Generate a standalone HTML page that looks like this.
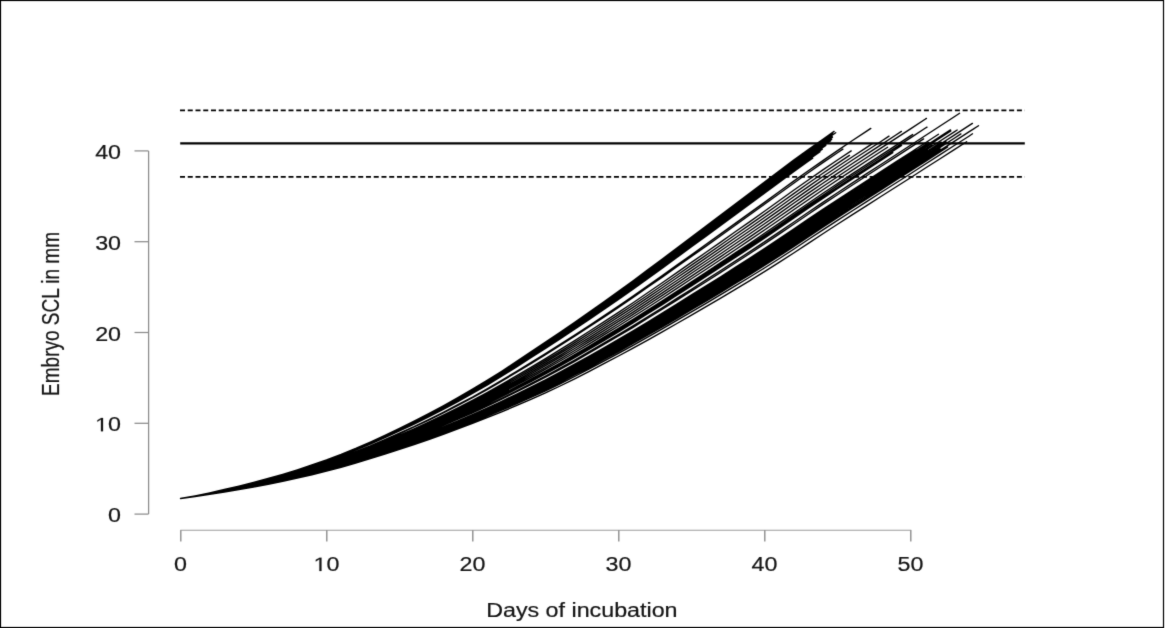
<!DOCTYPE html>
<html><head><meta charset="utf-8"><style>
html,body{margin:0;padding:0;background:#fff;width:1165px;height:628px;overflow:hidden}
svg{display:block}
text{font-family:"Liberation Sans",sans-serif;font-size:19px;fill:#161616;stroke:#161616;stroke-width:0.2px}
</style></head><body>
<svg width="1165" height="628" viewBox="0 0 1165 628">
<defs><filter id="bl" x="0" y="0" width="1165" height="628" filterUnits="userSpaceOnUse" color-interpolation-filters="sRGB"><feConvolveMatrix order="3" kernelMatrix="0.0113 0.0838 0.0113 0.0838 0.6193 0.0838 0.0113 0.0838 0.0113" edgeMode="duplicate"/></filter></defs>
<rect x="0" y="0" width="1165" height="628" fill="#fff"/>
<g filter="url(#bl)">
<rect x="0.5" y="0.5" width="1163" height="627" fill="none" stroke="#000" stroke-width="1.2"/>
<g stroke="#8c8c8c" stroke-width="1.25" fill="none">
<line x1="148.6" y1="514.1" x2="148.6" y2="150.9"/><line x1="134.5" y1="514.1" x2="148.6" y2="514.1"/><line x1="134.5" y1="423.3" x2="148.6" y2="423.3"/><line x1="134.5" y1="332.5" x2="148.6" y2="332.5"/><line x1="134.5" y1="241.7" x2="148.6" y2="241.7"/><line x1="134.5" y1="150.9" x2="148.6" y2="150.9"/>
</g>
<g stroke="#9c9c9c" stroke-width="1.1" fill="none">
<line x1="180.3" y1="530.3" x2="911.3" y2="530.3"/>
</g>
<g stroke="#888" stroke-width="1.35" fill="none"><line x1="180.8" y1="530.3" x2="180.8" y2="541.4"/><line x1="326.8" y1="530.3" x2="326.8" y2="541.4"/><line x1="472.8" y1="530.3" x2="472.8" y2="541.4"/><line x1="618.8" y1="530.3" x2="618.8" y2="541.4"/><line x1="764.8" y1="530.3" x2="764.8" y2="541.4"/><line x1="910.8" y1="530.3" x2="910.8" y2="541.4"/></g>
<text transform="translate(180.50 571.00) scale(1.200 1)" text-anchor="middle" style="font-size:19.4px">0</text><path transform="translate(313.55 571.00) scale(0.01137 -0.00947)" d="M515 0V1237L197 1010V1180L530 1409H696V0Z" fill="#161616" stroke="#161616" stroke-width="21.1"/><text transform="translate(326.50 571.00) scale(1.200 1)" text-anchor="middle" style="font-size:19.4px"><tspan style="fill:none;stroke:none">1</tspan>0</text><text transform="translate(472.50 571.00) scale(1.200 1)" text-anchor="middle" style="font-size:19.4px">20</text><text transform="translate(618.50 571.00) scale(1.200 1)" text-anchor="middle" style="font-size:19.4px">30</text><text transform="translate(764.50 571.00) scale(1.200 1)" text-anchor="middle" style="font-size:19.4px">40</text><text transform="translate(910.50 571.00) scale(1.200 1)" text-anchor="middle" style="font-size:19.4px">50</text>
<text transform="translate(121.00 522.10) scale(1.200 1)" text-anchor="end" style="font-size:19.4px">0</text><path transform="translate(95.11 431.30) scale(0.01137 -0.00947)" d="M515 0V1237L197 1010V1180L530 1409H696V0Z" fill="#161616" stroke="#161616" stroke-width="21.1"/><text transform="translate(121.00 431.30) scale(1.200 1)" text-anchor="end" style="font-size:19.4px"><tspan style="fill:none;stroke:none">1</tspan>0</text><text transform="translate(121.00 340.50) scale(1.200 1)" text-anchor="end" style="font-size:19.4px">20</text><text transform="translate(121.00 249.70) scale(1.200 1)" text-anchor="end" style="font-size:19.4px">30</text><text transform="translate(121.00 158.90) scale(1.200 1)" text-anchor="end" style="font-size:19.4px">40</text>
<text transform="translate(581.85 616.6) scale(1.2 1)" text-anchor="middle" style="font-size:19.4px">Days of incubation</text>
<text transform="translate(59.3 313.95) rotate(-90) scale(1 1.225)" text-anchor="middle">Embryo SCL in mm</text>
<path d="M180.5 498.5L195.1 495.8 209.7 492.8 224.3 489.5 238.9 486.1 253.5 482.4 268.1 478.5 282.7 474.3 297.3 469.8 311.9 465.0 326.5 459.9 341.1 454.4 355.7 448.4 370.3 442.0 384.9 435.3 399.5 428.4 414.1 421.2 428.7 413.7 443.3 405.8 457.9 397.7 472.5 389.2 487.1 380.4 501.7 371.2 516.3 361.6 530.9 351.8 545.5 342.0 560.1 332.2 574.7 322.2 589.3 312.1 603.9 301.8 618.5 291.4 633.1 280.8 647.7 269.9 662.3 259.0 676.9 248.0 691.5 237.1 706.1 226.1 720.7 215.1 735.3 204.1 749.9 193.1 764.5 182.1 779.1 171.1 793.7 160.1 808.3 149.5 822.9 139.2 834.1 131.4M180.5 498.5L195.1 495.8 209.7 492.8 224.3 489.6 238.9 486.1 253.5 482.5 268.1 478.6 282.7 474.4 297.3 469.9 311.9 465.1 326.5 460.0 341.1 454.5 355.7 448.6 370.3 442.2 384.9 435.5 399.5 428.6 414.1 421.5 428.7 414.0 443.3 406.2 457.9 398.1 472.5 389.7 487.1 380.9 501.7 371.7 516.3 362.1 530.9 352.4 545.5 342.7 560.1 332.9 574.7 322.9 589.3 312.8 603.9 302.6 618.5 292.2 633.1 281.6 647.7 270.8 662.3 259.9 676.9 249.0 691.5 238.0 706.1 227.1 720.7 216.2 735.3 205.2 749.9 194.2 764.5 183.3 779.1 172.3 793.7 161.3 808.3 150.7 822.9 140.4 832.7 133.6M180.5 498.5L195.1 495.8 209.7 492.8 224.3 489.6 238.9 486.2 253.5 482.5 268.1 478.7 282.7 474.5 297.3 470.0 311.9 465.2 326.5 460.2 341.1 454.7 355.7 448.7 370.3 442.4 384.9 435.8 399.5 428.9 414.1 421.8 428.7 414.3 443.3 406.5 457.9 398.5 472.5 390.1 487.1 381.4 501.7 372.2 516.3 362.7 530.9 353.0 545.5 343.3 560.1 333.5 574.7 323.6 589.3 313.5 603.9 303.3 618.5 293.0 633.1 282.4 647.7 271.7 662.3 260.8 676.9 249.9 691.5 239.0 706.1 228.1 720.7 217.2 735.3 206.2 749.9 195.3 764.5 184.4 779.1 173.4 793.7 162.5 808.3 151.8 822.9 141.6 835.7 132.7M180.5 498.5L195.1 495.8 209.7 492.8 224.3 489.6 238.9 486.2 253.5 482.6 268.1 478.7 282.7 474.6 297.3 470.1 311.9 465.4 326.5 460.3 341.1 454.9 355.7 448.9 370.3 442.6 384.9 436.0 399.5 429.2 414.1 422.1 428.7 414.7 443.3 406.9 457.9 398.9 472.5 390.5 487.1 381.8 501.7 372.7 516.3 363.2 530.9 353.6 545.5 343.9 560.1 334.2 574.7 324.3 589.3 314.3 603.9 304.1 618.5 293.8 633.1 283.3 647.7 272.6 662.3 261.7 676.9 250.9 691.5 240.0 706.1 229.1 720.7 218.2 735.3 207.3 749.9 196.4 764.5 185.5 779.1 174.5 793.7 163.6 808.3 153.0 822.9 142.7 832.2 136.3M180.5 498.5L195.1 495.8 209.7 492.9 224.3 489.7 238.9 486.3 253.5 482.6 268.1 478.8 282.7 474.7 297.3 470.2 311.9 465.5 326.5 460.5 341.1 455.0 355.7 449.1 370.3 442.8 384.9 436.2 399.5 429.4 414.1 422.4 428.7 415.0 443.3 407.3 457.9 399.2 472.5 391.0 487.1 382.3 501.7 373.2 516.3 363.8 530.9 354.2 545.5 344.6 560.1 334.9 574.7 325.0 589.3 315.0 603.9 304.9 618.5 294.6 633.1 284.1 647.7 273.5 662.3 262.7 676.9 251.8 691.5 241.0 706.1 230.1 720.7 219.3 735.3 208.4 749.9 197.5 764.5 186.6 779.1 175.7 793.7 164.8 808.3 154.2 822.9 143.9 832.5 137.3M180.5 498.5L195.1 495.8 209.7 492.9 224.3 489.7 238.9 486.3 253.5 482.7 268.1 478.9 282.7 474.7 297.3 470.3 311.9 465.6 326.5 460.6 341.1 455.2 355.7 449.3 370.3 443.0 384.9 436.5 399.5 429.7 414.1 422.7 428.7 415.3 443.3 407.6 457.9 399.6 472.5 391.4 487.1 382.8 501.7 373.7 516.3 364.3 530.9 354.8 545.5 345.2 560.1 335.5 574.7 325.7 589.3 315.8 603.9 305.7 618.5 295.4 633.1 285.0 647.7 274.3 662.3 263.6 676.9 252.7 691.5 241.9 706.1 231.1 720.7 220.3 735.3 209.4 749.9 198.6 764.5 187.7 779.1 176.8 793.7 166.0 808.3 155.4 822.9 145.1 831.7 139.1M180.5 498.5L195.1 495.8 209.7 492.9 224.3 489.7 238.9 486.3 253.5 482.8 268.1 478.9 282.7 474.8 297.3 470.4 311.9 465.7 326.5 460.7 341.1 455.3 355.7 449.5 370.3 443.2 384.9 436.7 399.5 430.0 414.1 423.0 428.7 415.6 443.3 408.0 457.9 400.0 472.5 391.8 487.1 383.2 501.7 374.2 516.3 364.9 530.9 355.4 545.5 345.8 560.1 336.2 574.7 326.4 589.3 316.5 603.9 306.4 618.5 296.2 633.1 285.8 647.7 275.2 662.3 264.5 676.9 253.7 691.5 242.9 706.1 232.2 720.7 221.3 735.3 210.5 749.9 199.7 764.5 188.8 779.1 178.0 793.7 167.1 808.3 156.5 822.9 146.3 830.8 140.8M180.5 498.5L195.1 495.8 209.7 492.9 224.3 489.8 238.9 486.4 253.5 482.8 268.1 479.0 282.7 474.9 297.3 470.5 311.9 465.9 326.5 460.9 341.1 455.5 355.7 449.7 370.3 443.4 384.9 436.9 399.5 430.2 414.1 423.3 428.7 415.9 443.3 408.3 457.9 400.4 472.5 392.2 487.1 383.7 501.7 374.7 516.3 365.4 530.9 356.0 545.5 346.5 560.1 336.9 574.7 327.1 589.3 317.2 603.9 307.2 618.5 297.0 633.1 286.7 647.7 276.1 662.3 265.4 676.9 254.6 691.5 243.9 706.1 233.2 720.7 222.4 735.3 211.6 749.9 200.8 764.5 190.0 779.1 179.1 793.7 168.3 808.3 157.7 822.9 147.5 825.8 145.4M180.5 498.5L195.1 495.8 209.7 492.9 224.3 489.8 238.9 486.4 253.5 482.9 268.1 479.1 282.7 475.0 297.3 470.6 311.9 466.0 326.5 461.0 341.1 455.7 355.7 449.9 370.3 443.7 384.9 437.2 399.5 430.5 414.1 423.5 428.7 416.3 443.3 408.7 457.9 400.8 472.5 392.7 487.1 384.2 501.7 375.2 516.3 366.0 530.9 356.6 545.5 347.1 560.1 337.6 574.7 327.9 589.3 318.0 603.9 308.0 618.5 297.8 633.1 287.5 647.7 277.0 662.3 266.3 676.9 255.6 691.5 244.9 706.1 234.2 720.7 223.4 735.3 212.6 749.9 201.9 764.5 191.1 779.1 180.3 793.7 169.4 808.3 158.9 822.3 149.1M180.5 498.5L195.1 495.9 209.7 493.0 224.3 489.8 238.9 486.5 253.5 482.9 268.1 479.2 282.7 475.1 297.3 470.7 311.9 466.1 326.5 461.2 341.1 455.8 355.7 450.0 370.3 443.9 384.9 437.4 399.5 430.7 414.1 423.8 428.7 416.6 443.3 409.0 457.9 401.2 472.5 393.1 487.1 384.6 501.7 375.7 516.3 366.6 530.9 357.2 545.5 347.8 560.1 338.2 574.7 328.6 589.3 318.7 603.9 308.8 618.5 298.6 633.1 288.3 647.7 277.8 662.3 267.2 676.9 256.5 691.5 245.8 706.1 235.2 720.7 224.5 735.3 213.7 749.9 203.0 764.5 192.2 779.1 181.4 793.7 170.6 808.3 160.0 820.1 151.8M180.5 498.5L195.1 495.9 209.7 493.0 224.3 489.9 238.9 486.5 253.5 483.0 268.1 479.2 282.7 475.2 297.3 470.8 311.9 466.2 326.5 461.3 341.1 456.0 355.7 450.2 370.3 444.1 384.9 437.6 399.5 431.0 414.1 424.1 428.7 416.9 443.3 409.4 457.9 401.6 472.5 393.5 487.1 385.1 501.7 376.2 516.3 367.1 530.9 357.8 545.5 348.4 560.1 338.9 574.7 329.3 589.3 319.5 603.9 309.5 618.5 299.4 633.1 289.2 647.7 278.7 662.3 268.1 676.9 257.5 691.5 246.8 706.1 236.2 720.7 225.5 735.3 214.8 749.9 204.0 764.5 193.3 779.1 182.5 793.7 171.8 808.3 161.2 812.7 158.1M180.5 498.5L195.1 495.9 209.7 493.1 224.3 490.1 238.9 486.9 253.5 483.5 268.1 479.8 282.7 475.9 297.3 471.7 311.9 467.2 326.5 462.5 341.1 457.3 355.7 451.7 370.3 445.8 384.9 439.5 399.5 433.1 414.1 426.5 428.7 419.5 443.3 412.3 457.9 404.7 472.5 397.0 487.1 388.8 501.7 380.3 516.3 371.6 530.9 362.6 545.5 353.5 560.1 344.4 574.7 335.0 589.3 325.5 603.9 315.8 618.5 306.0 633.1 296.0 647.7 285.8 662.3 275.5 676.9 265.1 691.5 254.7 706.1 244.3 720.7 233.9 735.3 223.4 749.9 212.9 764.5 202.4 779.1 191.8 793.7 181.1 808.3 170.7 822.9 160.6 837.5 150.6 852.1 140.8 866.7 131.1 870.8 128.4M180.5 498.5L195.1 496.0 209.7 493.2 224.3 490.2 238.9 487.0 253.5 483.6 268.1 479.9 282.7 476.0 297.3 471.9 311.9 467.4 326.5 462.7 341.1 457.6 355.7 452.0 370.3 446.1 384.9 440.0 399.5 433.6 414.1 427.0 428.7 420.1 443.3 412.9 457.9 405.4 472.5 397.7 487.1 389.7 501.7 381.2 516.3 372.5 530.9 363.6 545.5 354.6 560.1 345.5 574.7 336.2 589.3 326.8 603.9 317.2 618.5 307.4 633.1 297.5 647.7 287.3 662.3 277.1 676.9 266.7 691.5 256.4 706.1 246.1 720.7 235.7 735.3 225.3 749.9 214.8 764.5 204.3 779.1 193.8 793.7 183.2 808.3 172.8 822.9 162.6 837.5 152.7 842.9 149.1M180.5 498.5L195.1 496.0 209.7 493.3 224.3 490.4 238.9 487.2 253.5 483.9 268.1 480.4 282.7 476.6 297.3 472.5 311.9 468.2 326.5 463.6 341.1 458.6 355.7 453.2 370.3 447.4 384.9 441.4 399.5 435.2 414.1 428.8 428.7 422.1 443.3 415.1 457.9 407.8 472.5 400.3 487.1 392.5 501.7 384.4 516.3 375.9 530.9 367.3 545.5 358.6 560.1 349.7 574.7 340.6 589.3 331.3 603.9 321.9 618.5 312.4 633.1 302.7 647.7 292.7 662.3 282.7 676.9 272.6 691.5 262.4 706.1 252.3 720.7 242.1 735.3 231.8 749.9 221.6 764.5 211.2 779.1 200.8 793.7 190.3 808.3 180.0 822.9 169.9 837.5 160.0 851.2 150.9M180.5 498.5L195.1 496.0 209.7 493.4 224.3 490.5 238.9 487.4 253.5 484.1 268.1 480.6 282.7 476.8 297.3 472.8 311.9 468.5 326.5 464.0 341.1 459.1 355.7 453.7 370.3 448.0 384.9 442.1 399.5 435.9 414.1 429.6 428.7 423.0 443.3 416.1 457.9 408.9 472.5 401.5 487.1 393.8 501.7 385.8 516.3 377.5 530.9 369.0 545.5 360.3 560.1 351.6 574.7 342.6 589.3 333.4 603.9 324.1 618.5 314.6 633.1 305.0 647.7 295.2 662.3 285.2 676.9 275.2 691.5 265.1 706.1 255.1 720.7 245.0 735.3 234.8 749.9 224.6 764.5 214.4 779.1 204.0 793.7 193.6 808.3 183.3 822.9 173.2 837.5 163.4 849.5 155.4M180.5 498.5L195.1 496.1 209.7 493.4 224.3 490.5 238.9 487.5 253.5 484.2 268.1 480.8 282.7 477.1 297.3 473.1 311.9 468.9 326.5 464.4 341.1 459.5 355.7 454.2 370.3 448.6 384.9 442.7 399.5 436.7 414.1 430.4 428.7 423.9 443.3 417.1 457.9 410.0 472.5 402.7 487.1 395.1 501.7 387.2 516.3 379.0 530.9 370.6 545.5 362.1 560.1 353.4 574.7 344.6 589.3 335.5 603.9 326.3 618.5 316.9 633.1 307.4 647.7 297.6 662.3 287.8 676.9 277.8 691.5 267.9 706.1 257.9 720.7 247.9 735.3 237.8 749.9 227.7 764.5 217.5 779.1 207.2 793.7 196.8 808.3 186.6 822.9 176.5 837.5 166.7 852.1 157.0 866.7 147.4 872.4 143.6M180.5 498.5L195.1 496.1 209.7 493.5 224.3 490.6 238.9 487.6 253.5 484.4 268.1 481.0 282.7 477.3 297.3 473.4 311.9 469.2 326.5 464.8 341.1 460.0 355.7 454.7 370.3 449.2 384.9 443.4 399.5 437.4 414.1 431.2 428.7 424.8 443.3 418.1 457.9 411.1 472.5 403.9 487.1 396.5 501.7 388.6 516.3 380.6 530.9 372.3 545.5 363.9 560.1 355.3 574.7 346.5 589.3 337.6 603.9 328.4 618.5 319.2 633.1 309.7 647.7 300.1 662.3 290.3 676.9 280.5 691.5 270.6 706.1 260.7 720.7 250.8 735.3 240.8 749.9 230.7 764.5 220.6 779.1 210.4 793.7 200.1 808.3 189.9 822.9 179.9 837.5 170.0 852.1 160.3 866.7 150.7 881.3 141.2 889.0 136.1M180.5 498.5L195.1 496.1 209.7 493.5 224.3 490.7 238.9 487.7 253.5 484.6 268.1 481.2 282.7 477.6 297.3 473.7 311.9 469.6 326.5 465.2 341.1 460.4 355.7 455.3 370.3 449.8 384.9 444.0 399.5 438.1 414.1 432.1 428.7 425.7 443.3 419.1 457.9 412.2 472.5 405.1 487.1 397.8 501.7 390.1 516.3 382.1 530.9 374.0 545.5 365.7 560.1 357.2 574.7 348.5 589.3 339.6 603.9 330.6 618.5 321.4 633.1 312.1 647.7 302.6 662.3 292.9 676.9 283.1 691.5 273.3 706.1 263.5 720.7 253.7 735.3 243.8 749.9 233.8 764.5 223.8 779.1 213.6 793.7 203.3 808.3 193.1 822.9 183.2 837.5 173.4 852.1 163.7 866.7 154.1 881.3 144.6 895.9 135.0 901.4 131.4M180.5 498.5L195.1 496.1 209.7 493.6 224.3 490.8 238.9 487.9 253.5 484.7 268.1 481.4 282.7 477.8 297.3 474.0 311.9 469.9 326.5 465.6 341.1 460.9 355.7 455.8 370.3 450.4 384.9 444.7 399.5 438.9 414.1 432.9 428.7 426.6 443.3 420.1 457.9 413.3 472.5 406.3 487.1 399.1 501.7 391.5 516.3 383.7 530.9 375.6 545.5 367.5 560.1 359.1 574.7 350.5 589.3 341.7 603.9 332.8 618.5 323.7 633.1 314.4 647.7 305.0 662.3 295.4 676.9 285.8 691.5 276.1 706.1 266.4 720.7 256.6 735.3 246.8 749.9 236.9 764.5 226.9 779.1 216.8 793.7 206.6 808.3 196.4 822.9 186.5 837.5 176.7 852.1 167.0 866.7 157.5 881.3 147.9 895.9 138.4 910.5 128.9 925.1 119.3 926.4 118.4M180.5 498.5L195.1 496.2 209.7 493.6 224.3 490.9 238.9 488.0 253.5 484.9 268.1 481.6 282.7 478.1 297.3 474.3 311.9 470.2 326.5 466.0 341.1 461.3 355.7 456.3 370.3 450.9 384.9 445.3 399.5 439.6 414.1 433.7 428.7 427.5 443.3 421.1 457.9 414.4 472.5 407.5 487.1 400.4 501.7 392.9 516.3 385.2 530.9 377.3 545.5 369.2 560.1 361.0 574.7 352.5 589.3 343.8 603.9 334.9 618.5 326.0 633.1 316.8 647.7 307.5 662.3 298.0 676.9 288.4 691.5 278.8 706.1 269.2 720.7 259.5 735.3 249.8 749.9 239.9 764.5 230.0 779.1 220.0 793.7 209.8 808.3 199.7 822.9 189.8 837.5 180.0 852.1 170.4 866.7 160.8 881.3 151.3 887.6 147.2M180.5 498.5L195.1 496.2 209.7 493.7 224.3 491.0 238.9 488.1 253.5 485.1 268.1 481.8 282.7 478.3 297.3 474.6 311.9 470.6 326.5 466.4 341.1 461.8 355.7 456.8 370.3 451.6 384.9 446.0 399.5 440.4 414.1 434.5 428.7 428.4 443.3 422.1 457.9 415.6 472.5 408.8 487.1 401.7 501.7 394.4 516.3 386.8 530.9 379.1 545.5 371.1 560.1 363.0 574.7 354.6 589.3 346.0 603.9 337.2 618.5 328.3 633.1 319.3 647.7 310.1 662.3 300.7 676.9 291.2 691.5 281.7 706.1 272.2 720.7 262.6 735.3 252.9 749.9 243.2 764.5 233.3 779.1 223.4 793.7 213.2 808.3 203.2 822.9 193.3 837.5 183.5 852.1 173.9 866.7 164.4 881.3 154.9 895.9 145.4 910.5 135.9 912.7 134.5M180.5 498.5L195.1 496.2 209.7 493.7 224.3 491.0 238.9 488.2 253.5 485.2 268.1 481.9 282.7 478.5 297.3 474.8 311.9 470.8 326.5 466.6 341.1 462.1 355.7 457.1 370.3 451.9 384.9 446.4 399.5 440.8 414.1 435.0 428.7 429.0 443.3 422.7 457.9 416.2 472.5 409.5 487.1 402.5 501.7 395.2 516.3 387.7 530.9 380.0 545.5 372.1 560.1 364.1 574.7 355.7 589.3 347.2 603.9 338.5 618.5 329.6 633.1 320.6 647.7 311.5 662.3 302.1 676.9 292.7 691.5 283.2 706.1 273.8 720.7 264.2 735.3 254.6 749.9 244.9 764.5 235.1 779.1 225.2 793.7 215.1 808.3 205.1 822.9 195.2 837.5 185.4 852.1 175.8 866.7 166.3 881.3 156.8 895.9 147.4 910.5 137.9 925.1 128.3 927.0 127.1M180.5 498.5L195.1 496.2 209.7 493.8 224.3 491.1 238.9 488.2 253.5 485.2 268.1 482.0 282.7 478.6 297.3 474.9 311.9 471.0 326.5 466.8 341.1 462.3 355.7 457.4 370.3 452.2 384.9 446.8 399.5 441.2 414.1 435.4 428.7 429.4 443.3 423.2 457.9 416.7 472.5 410.1 487.1 403.2 501.7 396.0 516.3 388.5 530.9 380.9 545.5 373.1 560.1 365.0 574.7 356.7 589.3 348.2 603.9 339.6 618.5 330.8 633.1 321.9 647.7 312.7 662.3 303.4 676.9 294.1 691.5 284.6 706.1 275.2 720.7 265.7 735.3 256.2 749.9 246.5 764.5 236.7 779.1 226.8 793.7 216.8 808.3 206.8 822.9 196.9 837.5 187.2 852.1 177.6 866.7 168.0 881.3 158.6 895.9 149.1 901.6 145.4M180.5 498.5L195.1 496.2 209.7 493.8 224.3 491.1 238.9 488.3 253.5 485.3 268.1 482.1 282.7 478.7 297.3 475.0 311.9 471.1 326.5 467.0 341.1 462.5 355.7 457.6 370.3 452.5 384.9 447.1 399.5 441.5 414.1 435.8 428.7 429.8 443.3 423.6 457.9 417.2 472.5 410.6 487.1 403.8 501.7 396.6 516.3 389.2 530.9 381.6 545.5 373.9 560.1 365.9 574.7 357.6 589.3 349.2 603.9 340.6 618.5 331.8 633.1 322.9 647.7 313.8 662.3 304.6 676.9 295.3 691.5 285.9 706.1 276.5 720.7 267.0 735.3 257.5 749.9 247.9 764.5 238.2 779.1 228.3 793.7 218.3 808.3 208.3 822.9 198.4 837.5 188.7 852.1 179.1 866.7 169.6 881.3 160.1 892.8 152.7M180.5 498.5L195.1 496.3 209.7 493.9 224.3 491.2 238.9 488.5 253.5 485.5 268.1 482.4 282.7 479.0 297.3 475.4 311.9 471.6 326.5 467.5 341.1 463.1 355.7 458.3 370.3 453.2 384.9 447.8 399.5 442.4 414.1 436.8 428.7 430.9 443.3 424.8 457.9 418.6 472.5 412.1 487.1 405.3 501.7 398.3 516.3 391.1 530.9 383.6 545.5 376.0 560.1 368.1 574.7 360.0 589.3 351.7 603.9 343.2 618.5 334.6 633.1 325.8 647.7 316.8 662.3 307.7 676.9 298.4 691.5 289.2 706.1 279.9 720.7 270.5 735.3 261.1 749.9 251.6 764.5 241.9 779.1 232.1 793.7 222.2 808.3 212.2 822.9 202.4 837.5 192.7 852.1 183.1 866.7 173.6 881.3 164.2 895.9 154.7 910.5 145.3 925.1 135.8 939.7 126.3 954.3 116.8 959.6 113.3M180.5 498.5L195.1 496.3 209.7 493.9 224.3 491.3 238.9 488.5 253.5 485.6 268.1 482.5 282.7 479.2 297.3 475.6 311.9 471.8 326.5 467.7 341.1 463.3 355.7 458.6 370.3 453.5 384.9 448.3 399.5 442.9 414.1 437.3 428.7 431.5 443.3 425.5 457.9 419.2 472.5 412.8 487.1 406.1 501.7 399.2 516.3 392.0 530.9 384.7 545.5 377.1 560.1 369.3 574.7 361.3 589.3 353.0 603.9 344.5 618.5 336.0 633.1 327.3 647.7 318.3 662.3 309.3 676.9 300.1 691.5 290.9 706.1 281.7 720.7 272.4 735.3 263.0 749.9 253.5 764.5 243.9 779.1 234.1 793.7 224.2 808.3 214.3 822.9 204.4 837.5 194.8 852.1 185.2 866.7 175.7 881.3 166.3 895.9 156.9 910.5 147.4 923.6 138.9M180.5 498.5L195.1 496.3 209.7 494.0 224.3 491.4 238.9 488.7 253.5 485.8 268.1 482.8 282.7 479.5 297.3 476.0 311.9 472.3 326.5 468.3 341.1 464.0 355.7 459.4 370.3 454.4 384.9 449.2 399.5 443.9 414.1 438.5 428.7 432.8 443.3 427.0 457.9 420.9 472.5 414.6 487.1 408.1 501.7 401.3 516.3 394.3 530.9 387.2 545.5 379.8 560.1 372.1 574.7 364.2 589.3 356.1 603.9 347.8 618.5 339.3 633.1 330.8 647.7 322.0 662.3 313.0 676.9 304.0 691.5 294.9 706.1 285.8 720.7 276.7 735.3 267.4 749.9 258.0 764.5 248.6 779.1 238.9 793.7 229.0 808.3 219.1 822.9 209.4 837.5 199.7 852.1 190.2 866.7 180.8 881.3 171.3 895.9 161.9 910.5 152.5 925.1 143.0 938.5 134.3M180.5 498.5L195.1 496.4 209.7 494.1 224.3 491.6 238.9 488.9 253.5 486.1 268.1 483.1 282.7 479.8 297.3 476.4 311.9 472.7 326.5 468.8 341.1 464.6 355.7 460.1 370.3 455.2 384.9 450.1 399.5 444.9 414.1 439.6 428.7 434.0 443.3 428.3 457.9 422.3 472.5 416.2 487.1 409.8 501.7 403.2 516.3 396.4 530.9 389.4 545.5 382.2 560.1 374.7 574.7 366.9 589.3 358.9 603.9 350.7 618.5 342.4 633.1 333.9 647.7 325.3 662.3 316.5 676.9 307.6 691.5 298.6 706.1 289.6 720.7 280.6 735.3 271.4 749.9 262.2 764.5 252.8 779.1 243.2 793.7 233.4 808.3 223.6 822.9 213.8 837.5 204.2 852.1 194.7 866.7 185.3 881.3 175.9 895.9 166.5 910.5 157.1 925.1 147.6 939.7 138.2 950.9 130.9M180.5 498.5L195.1 496.4 209.7 494.1 224.3 491.6 238.9 489.0 253.5 486.2 268.1 483.3 282.7 480.1 297.3 476.7 311.9 473.1 326.5 469.2 341.1 465.0 355.7 460.5 370.3 455.7 384.9 450.7 399.5 445.6 414.1 440.3 428.7 434.9 443.3 429.2 457.9 423.3 472.5 417.3 487.1 411.0 501.7 404.5 516.3 397.8 530.9 390.9 545.5 383.8 560.1 376.4 574.7 368.7 589.3 360.8 603.9 352.7 618.5 344.4 633.1 336.1 647.7 327.5 662.3 318.8 676.9 310.0 691.5 301.1 706.1 292.2 720.7 283.2 735.3 274.2 749.9 265.0 764.5 255.6 779.1 246.1 793.7 236.4 808.3 226.6 822.9 216.8 837.5 207.2 852.1 197.8 866.7 188.4 881.3 179.0 895.9 169.6 910.5 160.2 925.1 150.8 939.7 141.3 954.3 131.9 957.2 130.0M180.5 498.5L195.1 496.4 209.7 494.2 224.3 491.7 238.9 489.1 253.5 486.4 268.1 483.4 282.7 480.3 297.3 476.9 311.9 473.4 326.5 469.6 341.1 465.5 355.7 461.0 370.3 456.3 384.9 451.3 399.5 446.3 414.1 441.1 428.7 435.7 443.3 430.1 457.9 424.3 472.5 418.4 487.1 412.2 501.7 405.8 516.3 399.2 530.9 392.4 545.5 385.4 560.1 378.1 574.7 370.5 589.3 362.7 603.9 354.6 618.5 346.5 633.1 338.2 647.7 329.8 662.3 321.1 676.9 312.4 691.5 303.6 706.1 294.8 720.7 285.9 735.3 276.9 749.9 267.8 764.5 258.5 779.1 249.0 793.7 239.3 808.3 229.6 822.9 219.9 837.5 210.3 852.1 200.8 866.7 191.4 881.3 182.1 895.9 172.7 910.5 163.3 925.1 153.9 939.7 144.5 954.3 135.1 968.9 125.6 972.4 123.4M180.5 498.5L195.1 496.5 209.7 494.3 224.3 491.9 238.9 489.3 253.5 486.7 268.1 483.8 282.7 480.7 297.3 477.5 311.9 474.0 326.5 470.3 341.1 466.3 355.7 461.9 370.3 457.3 384.9 452.5 399.5 447.6 414.1 442.6 428.7 437.4 443.3 431.9 457.9 426.3 472.5 420.6 487.1 414.6 501.7 408.4 516.3 402.1 530.9 395.5 545.5 388.7 560.1 381.5 574.7 374.1 589.3 366.5 603.9 358.6 618.5 350.7 633.1 342.5 647.7 334.2 662.3 325.8 676.9 317.2 691.5 308.6 706.1 299.9 720.7 291.2 735.3 282.3 749.9 273.4 764.5 264.2 779.1 254.9 793.7 245.3 808.3 235.6 822.9 225.9 837.5 216.4 852.1 207.0 866.7 197.6 881.3 188.3 895.9 178.9 910.5 169.6 925.1 160.2 939.7 150.8 954.3 141.4 968.9 132.0 974.4 128.4M180.5 498.5L195.1 496.5 209.7 494.3 224.3 492.0 238.9 489.5 253.5 486.9 268.1 484.1 282.7 481.0 297.3 477.8 311.9 474.4 326.5 470.8 341.1 466.8 355.7 462.6 370.3 458.0 384.9 453.3 399.5 448.5 414.1 443.6 428.7 438.4 443.3 433.1 457.9 427.6 472.5 422.0 487.1 416.2 501.7 410.1 516.3 403.9 530.9 397.5 545.5 390.8 560.1 383.8 574.7 376.5 589.3 368.9 603.9 361.2 618.5 353.4 633.1 345.4 647.7 337.2 662.3 328.8 676.9 320.4 691.5 311.9 706.1 303.3 720.7 294.7 735.3 285.9 749.9 277.0 764.5 268.0 779.1 258.7 793.7 249.2 808.3 239.5 822.9 229.9 837.5 220.4 852.1 211.0 866.7 201.6 881.3 192.3 895.9 183.0 910.5 173.7 925.1 164.3 939.7 154.9 954.3 145.5 968.9 136.2 972.5 133.8M180.5 498.5L195.1 496.5 209.7 494.4 224.3 492.1 238.9 489.6 253.5 487.0 268.1 484.3 282.7 481.3 297.3 478.2 311.9 474.8 326.5 471.2 341.1 467.4 355.7 463.2 370.3 458.7 384.9 454.1 399.5 449.4 414.1 444.5 428.7 439.5 443.3 434.3 457.9 428.9 472.5 423.4 487.1 417.7 501.7 411.8 516.3 405.7 530.9 399.4 545.5 392.9 560.1 386.0 574.7 378.8 589.3 371.4 603.9 363.7 618.5 356.0 633.1 348.1 647.7 340.1 662.3 331.8 676.9 323.5 691.5 315.1 706.1 306.6 720.7 298.1 735.3 289.4 749.9 280.6 764.5 271.7 779.1 262.4 793.7 253.0 808.3 243.4 822.9 233.8 837.5 224.3 852.1 214.9 866.7 205.6 881.3 196.3 895.9 187.0 910.5 177.7 925.1 168.3 939.7 159.0 954.3 149.6 966.6 141.7M180.5 498.5L195.1 496.3 209.7 494.0 224.3 491.4 238.9 488.7 253.5 485.9 268.1 482.8 282.7 479.5 297.3 476.0 311.9 472.3 326.5 468.3 341.1 464.1 355.7 459.4 370.3 454.5 384.9 449.3 399.5 444.0 414.1 438.6 428.7 432.9 443.3 427.0 457.9 421.0 472.5 414.7 487.1 408.2 501.7 401.4 516.3 394.5 530.9 387.3 545.5 379.9 560.1 372.3 574.7 364.4 589.3 356.2 603.9 347.9 618.5 339.5 633.1 331.0 647.7 322.2 662.3 313.3 676.9 304.2 691.5 295.2 706.1 286.1 720.7 276.9 735.3 267.7 749.9 258.3 764.5 248.8 779.1 239.2 793.7 229.3 808.3 219.4 822.9 209.6 837.5 200.0 852.1 190.5 866.7 181.0 881.3 171.6 895.9 162.2 910.5 152.8 915.8 149.4M180.5 498.5L195.1 496.3 209.7 494.0 224.3 491.5 238.9 488.8 253.5 485.9 268.1 482.9 282.7 479.6 297.3 476.2 311.9 472.5 326.5 468.5 341.1 464.3 355.7 459.6 370.3 454.7 384.9 449.6 399.5 444.3 414.1 438.9 428.7 433.3 443.3 427.5 457.9 421.4 472.5 415.2 487.1 408.8 501.7 402.1 516.3 395.2 530.9 388.0 545.5 380.7 560.1 373.1 574.7 365.3 589.3 357.2 603.9 348.9 618.5 340.5 633.1 332.0 647.7 323.3 662.3 314.4 676.9 305.4 691.5 296.4 706.1 287.3 720.7 278.2 735.3 269.0 749.9 259.7 764.5 250.2 779.1 240.6 793.7 230.7 808.3 220.9 822.9 211.1 837.5 201.5 852.1 192.0 866.7 182.5 881.3 173.1 895.9 163.7 910.5 154.3 925.1 144.9 928.8 142.5M180.5 498.5L195.1 496.4 209.7 494.0 224.3 491.5 238.9 488.8 253.5 486.0 268.1 483.0 282.7 479.8 297.3 476.3 311.9 472.6 326.5 468.7 341.1 464.5 355.7 459.9 370.3 455.0 384.9 449.9 399.5 444.7 414.1 439.3 428.7 433.7 443.3 427.9 457.9 421.9 472.5 415.7 487.1 409.3 501.7 402.7 516.3 395.8 530.9 388.8 545.5 381.5 560.1 374.0 574.7 366.1 589.3 358.1 603.9 349.9 618.5 341.5 633.1 333.0 647.7 324.4 662.3 315.5 676.9 306.6 691.5 297.6 706.1 288.6 720.7 279.5 735.3 270.3 749.9 261.0 764.5 251.6 779.1 242.0 793.7 232.2 808.3 222.3 822.9 212.6 837.5 203.0 852.1 193.5 866.7 184.0 881.3 174.6 895.9 165.2 910.5 155.8 925.1 146.4 939.7 136.9 950.5 129.9M180.5 498.5L195.1 496.4 209.7 494.1 224.3 491.6 238.9 488.9 253.5 486.1 268.1 483.1 282.7 479.9 297.3 476.4 311.9 472.8 326.5 468.9 341.1 464.7 355.7 460.1 370.3 455.2 384.9 450.2 399.5 445.0 414.1 439.7 428.7 434.1 443.3 428.4 457.9 422.4 472.5 416.3 487.1 409.9 501.7 403.3 516.3 396.5 530.9 389.5 545.5 382.3 560.1 374.8 574.7 367.0 589.3 359.0 603.9 350.8 618.5 342.5 633.1 334.1 647.7 325.4 662.3 316.6 676.9 307.7 691.5 298.8 706.1 289.8 720.7 280.8 735.3 271.6 749.9 262.4 764.5 253.0 779.1 243.4 793.7 233.6 808.3 223.8 822.9 214.0 837.5 204.4 852.1 194.9 866.7 185.5 881.3 176.1 895.9 166.7 910.5 157.3 921.4 150.3M180.5 498.5L195.1 496.4 209.7 494.1 224.3 491.6 238.9 488.9 253.5 486.1 268.1 483.2 282.7 480.0 297.3 476.6 311.9 472.9 326.5 469.1 341.1 464.9 355.7 460.3 370.3 455.5 384.9 450.5 399.5 445.3 414.1 440.0 428.7 434.5 443.3 428.8 457.9 422.9 472.5 416.8 487.1 410.5 501.7 404.0 516.3 397.2 530.9 390.2 545.5 383.1 560.1 375.6 574.7 367.9 589.3 359.9 603.9 351.8 618.5 343.5 633.1 335.1 647.7 326.5 662.3 317.8 676.9 308.9 691.5 300.0 706.1 291.1 720.7 282.1 735.3 273.0 749.9 263.7 764.5 254.4 779.1 244.8 793.7 235.1 808.3 225.2 822.9 215.5 837.5 205.9 852.1 196.4 866.7 187.0 881.3 177.6 895.9 168.2 910.5 158.8 925.1 149.4 932.1 144.9M180.5 498.5L195.1 496.4 209.7 494.1 224.3 491.6 238.9 489.0 253.5 486.2 268.1 483.3 282.7 480.1 297.3 476.7 311.9 473.1 326.5 469.2 341.1 465.1 355.7 460.5 370.3 455.7 384.9 450.8 399.5 445.6 414.1 440.4 428.7 434.9 443.3 429.2 457.9 423.4 472.5 417.3 487.1 411.1 501.7 404.6 516.3 397.9 530.9 391.0 545.5 383.9 560.1 376.5 574.7 368.8 589.3 360.8 603.9 352.8 618.5 344.5 633.1 336.2 647.7 327.6 662.3 318.9 676.9 310.1 691.5 301.2 706.1 292.3 720.7 283.3 735.3 274.3 749.9 265.1 764.5 255.8 779.1 246.2 793.7 236.5 808.3 226.7 822.9 217.0 837.5 207.4 852.1 197.9 866.7 188.5 881.3 179.1 895.9 169.8 910.5 160.4 925.1 150.9 927.4 149.4M180.5 498.5L195.1 496.4 209.7 494.1 224.3 491.7 238.9 489.1 253.5 486.3 268.1 483.4 282.7 480.2 297.3 476.8 311.9 473.2 326.5 469.4 341.1 465.3 355.7 460.8 370.3 456.0 384.9 451.0 399.5 446.0 414.1 440.7 428.7 435.3 443.3 429.7 457.9 423.9 472.5 417.9 487.1 411.7 501.7 405.2 516.3 398.6 530.9 391.7 545.5 384.6 560.1 377.3 574.7 369.6 589.3 361.8 603.9 353.7 618.5 345.5 633.1 337.2 647.7 328.7 662.3 320.0 676.9 311.3 691.5 302.4 706.1 293.6 720.7 284.6 735.3 275.6 749.9 266.5 764.5 257.2 779.1 247.6 793.7 237.9 808.3 228.2 822.9 218.4 837.5 208.9 852.1 199.4 866.7 190.0 881.3 180.6 895.9 171.3 910.5 161.9 925.1 152.5 939.7 143.0 941.2 142.1M180.5 498.5L195.1 496.4 209.7 494.2 224.3 491.7 238.9 489.1 253.5 486.4 268.1 483.4 282.7 480.3 297.3 476.9 311.9 473.4 326.5 469.6 341.1 465.5 355.7 461.0 370.3 456.3 384.9 451.3 399.5 446.3 414.1 441.1 428.7 435.7 443.3 430.1 457.9 424.3 472.5 418.4 487.1 412.2 501.7 405.9 516.3 399.3 530.9 392.5 545.5 385.4 560.1 378.1 574.7 370.5 589.3 362.7 603.9 354.7 618.5 346.5 633.1 338.3 647.7 329.8 662.3 321.2 676.9 312.4 691.5 303.6 706.1 294.8 720.7 285.9 735.3 276.9 749.9 267.8 764.5 258.5 779.1 249.1 793.7 239.4 808.3 229.6 822.9 219.9 837.5 210.3 852.1 200.9 866.7 191.5 881.3 182.1 895.9 172.8 910.5 163.4 925.1 154.0 939.7 144.5 954.3 135.1 959.8 131.5M180.5 498.5L195.1 496.4 209.7 494.2 224.3 491.8 238.9 489.2 253.5 486.4 268.1 483.5 282.7 480.4 297.3 477.1 311.9 473.5 326.5 469.8 341.1 465.7 355.7 461.2 370.3 456.5 384.9 451.6 399.5 446.6 414.1 441.5 428.7 436.1 443.3 430.6 457.9 424.8 472.5 418.9 487.1 412.8 501.7 406.5 516.3 400.0 530.9 393.2 545.5 386.2 560.1 379.0 574.7 371.4 589.3 363.6 603.9 355.6 618.5 347.5 633.1 339.3 647.7 330.9 662.3 322.3 676.9 313.6 691.5 304.8 706.1 296.1 720.7 287.2 735.3 278.2 749.9 269.2 764.5 259.9 779.1 250.5 793.7 240.8 808.3 231.1 822.9 221.4 837.5 211.8 852.1 202.4 866.7 193.0 881.3 183.6 895.9 174.3 910.5 164.9 925.1 155.5 939.7 146.1 946.1 141.9M180.5 498.5L195.1 496.4 209.7 494.2 224.3 491.8 238.9 489.2 253.5 486.5 268.1 483.6 282.7 480.5 297.3 477.2 311.9 473.7 326.5 469.9 341.1 465.9 355.7 461.5 370.3 456.8 384.9 451.9 399.5 446.9 414.1 441.8 428.7 436.5 443.3 431.0 457.9 425.3 472.5 419.4 487.1 413.4 501.7 407.1 516.3 400.6 530.9 393.9 545.5 387.0 560.1 379.8 574.7 372.3 589.3 364.5 603.9 356.6 618.5 348.6 633.1 340.4 647.7 332.0 662.3 323.4 676.9 314.8 691.5 306.1 706.1 297.3 720.7 288.5 735.3 279.6 749.9 270.5 764.5 261.3 779.1 251.9 793.7 242.2 808.3 232.5 822.9 222.8 837.5 213.3 852.1 203.8 866.7 194.5 881.3 185.1 895.9 175.8 910.5 166.4 925.1 157.0 939.7 147.6 954.3 138.2 960.9 133.9M180.5 498.5L195.1 496.5 209.7 494.2 224.3 491.8 238.9 489.3 253.5 486.6 268.1 483.7 282.7 480.6 297.3 477.3 311.9 473.8 326.5 470.1 341.1 466.1 355.7 461.7 370.3 457.0 384.9 452.2 399.5 447.3 414.1 442.2 428.7 436.9 443.3 431.4 457.9 425.8 472.5 420.0 487.1 414.0 501.7 407.8 516.3 401.3 530.9 394.7 545.5 387.8 560.1 380.6 574.7 373.2 589.3 365.4 603.9 357.6 618.5 349.6 633.1 341.4 647.7 333.0 662.3 324.5 676.9 315.9 691.5 307.3 706.1 298.6 720.7 289.8 735.3 280.9 749.9 271.9 764.5 262.7 779.1 253.3 793.7 243.7 808.3 234.0 822.9 224.3 837.5 214.8 852.1 205.3 866.7 196.0 881.3 186.6 895.9 177.3 910.5 167.9 925.1 158.5 939.7 149.1 940.1 148.8M180.5 498.5L195.1 496.5 209.7 494.3 224.3 491.9 238.9 489.3 253.5 486.7 268.1 483.8 282.7 480.7 297.3 477.5 311.9 474.0 326.5 470.3 341.1 466.3 355.7 461.9 370.3 457.3 384.9 452.5 399.5 447.6 414.1 442.5 428.7 437.3 443.3 431.9 457.9 426.3 472.5 420.5 487.1 414.5 501.7 408.4 516.3 402.0 530.9 395.4 545.5 388.6 560.1 381.5 574.7 374.0 589.3 366.4 603.9 358.5 618.5 350.6 633.1 342.4 647.7 334.1 662.3 325.7 676.9 317.1 691.5 308.5 706.1 299.8 720.7 291.1 735.3 282.2 749.9 273.2 764.5 264.1 779.1 254.7 793.7 245.1 808.3 235.4 822.9 225.8 837.5 216.2 852.1 206.8 866.7 197.5 881.3 188.1 895.9 178.8 910.5 169.4 925.1 160.1 939.7 150.6 954.3 141.2 968.9 131.9 978.5 125.7M180.5 498.5L195.1 496.5 209.7 494.3 224.3 491.9 238.9 489.4 253.5 486.7 268.1 483.9 282.7 480.8 297.3 477.6 311.9 474.1 326.5 470.5 341.1 466.5 355.7 462.2 370.3 457.6 384.9 452.8 399.5 447.9 414.1 442.9 428.7 437.7 443.3 432.3 457.9 426.8 472.5 421.0 487.1 415.1 501.7 409.0 516.3 402.7 530.9 396.1 545.5 389.4 560.1 382.3 574.7 374.9 589.3 367.3 603.9 359.5 618.5 351.6 633.1 343.5 647.7 335.2 662.3 326.8 676.9 318.3 691.5 309.7 706.1 301.1 720.7 292.3 735.3 283.5 749.9 274.6 764.5 265.5 779.1 256.1 793.7 246.6 808.3 236.9 822.9 227.2 837.5 217.7 852.1 208.3 866.7 198.9 881.3 189.6 895.9 180.3 910.5 171.0 925.1 161.6 939.7 152.2 947.7 147.0" fill="none" stroke="#000" stroke-width="1.35" stroke-linecap="round" stroke-linejoin="round"/>
<g fill="none" stroke="#000">
<line x1="180.0" y1="110.3" x2="1024.8" y2="110.3" stroke-width="1.7" stroke-dasharray="5 2.749"/>
<line x1="180.2" y1="143.4" x2="1024.8" y2="143.4" stroke-width="2.1"/>
<line x1="180.0" y1="176.9" x2="1024.8" y2="176.9" stroke-width="1.7" stroke-dasharray="5 2.749"/>
</g>
</g>
</svg>
</body></html>
